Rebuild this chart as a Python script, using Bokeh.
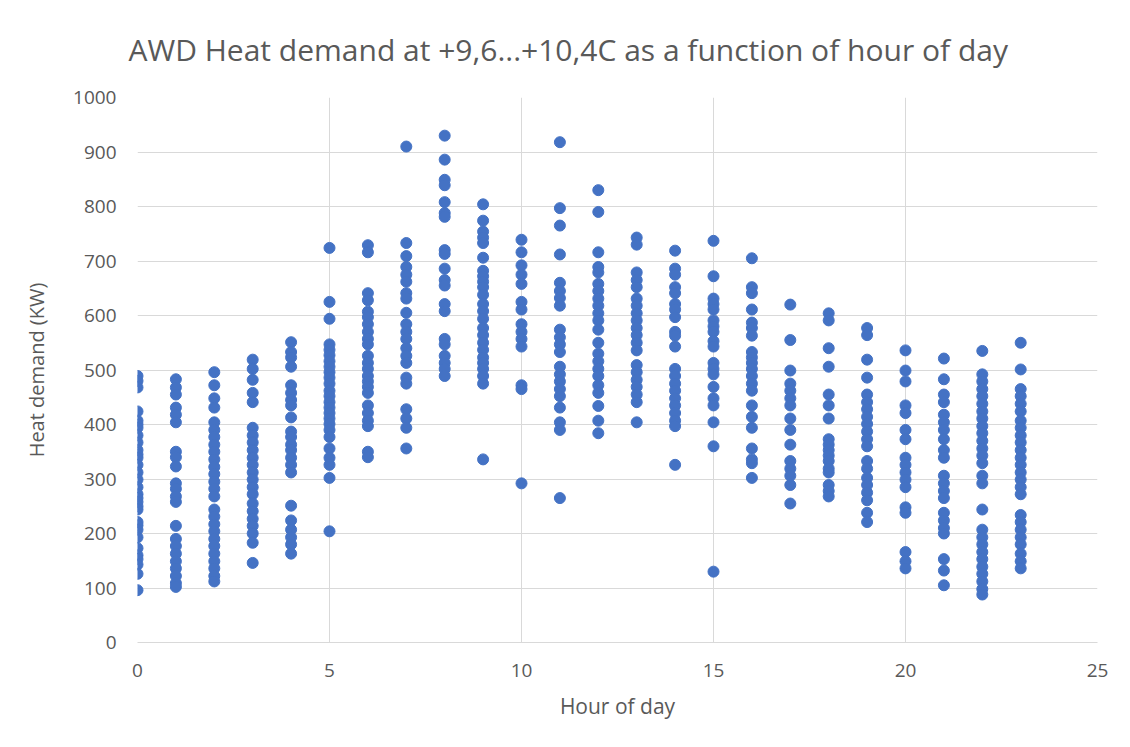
from bokeh.plotting import figure
from bokeh.models import ColumnDataSource, Title, FixedTicker
from bokeh.embed import file_html
from bokeh.resources import INLINE

# Heat demand (KW) readings per hour of day
h00 = [489, 480, 468, 424, 407, 400, 394, 380, 367, 353, 345, 339, 326, 312, 299, 285, 272, 265, 258, 250, 244, 221, 215, 207, 193, 173, 160, 153, 143, 126, 96]
h01 = [483, 468, 455, 431, 418, 404, 350, 340, 323, 292, 282, 268, 258, 214, 190, 177, 163, 149, 136, 122, 109, 102]
h02 = [496, 472, 448, 431, 404, 390, 377, 363, 350, 336, 322, 309, 295, 282, 268, 244, 231, 217, 204, 190, 177, 163, 149, 136, 122, 112]
h03 = [519, 502, 482, 458, 441, 394, 380, 367, 353, 339, 326, 312, 299, 285, 272, 255, 241, 227, 214, 200, 183, 146]
h04 = [551, 533, 523, 506, 472, 458, 445, 435, 413, 387, 377, 363, 353, 339, 326, 312, 251, 224, 207, 193, 180, 163]
h05 = [724, 625, 594, 547, 537, 527, 516, 506, 496, 486, 475, 462, 452, 441, 431, 421, 411, 401, 390, 377, 356, 339, 326, 302, 204]
h06 = [729, 716, 641, 628, 607, 597, 584, 570, 557, 547, 526, 513, 502, 489, 479, 469, 458, 435, 421, 407, 397, 350, 340]
h07 = [910, 733, 709, 689, 675, 662, 641, 631, 605, 584, 570, 557, 540, 526, 513, 486, 475, 428, 411, 394, 356]
h08 = [930, 886, 849, 839, 808, 788, 781, 720, 713, 686, 665, 655, 621, 608, 557, 547, 526, 513, 502, 489]
h09 = [804, 774, 754, 743, 733, 706, 682, 672, 662, 652, 638, 621, 608, 594, 577, 564, 550, 537, 523, 513, 502, 489, 475, 336]
h10 = [739, 716, 692, 675, 658, 625, 611, 584, 570, 557, 543, 472, 465, 292]
h11 = [918, 797, 765, 712, 660, 645, 632, 618, 574, 560, 547, 533, 506, 492, 479, 465, 452, 431, 404, 390, 265]
h12 = [830, 790, 716, 689, 679, 658, 645, 631, 618, 604, 591, 574, 550, 530, 516, 502, 489, 472, 458, 434, 407, 384]
h13 = [743, 730, 679, 665, 652, 631, 618, 604, 591, 577, 564, 550, 536, 509, 496, 482, 469, 455, 441, 404]
h14 = [719, 686, 675, 652, 641, 621, 611, 597, 570, 563, 543, 502, 489, 475, 462, 448, 435, 421, 407, 397, 326]
h15 = [737, 672, 631, 621, 611, 591, 580, 570, 553, 543, 513, 502, 492, 469, 448, 435, 404, 360, 130]
h16 = [705, 652, 641, 611, 587, 577, 563, 533, 523, 513, 502, 489, 475, 462, 435, 414, 394, 356, 336, 329, 302]
h17 = [620, 555, 499, 475, 462, 448, 435, 411, 390, 363, 333, 319, 306, 289, 255]
h18 = [604, 591, 540, 506, 455, 435, 411, 373, 363, 353, 343, 333, 319, 312, 289, 278, 268]
h19 = [577, 564, 519, 486, 455, 441, 428, 414, 401, 387, 373, 360, 333, 319, 302, 289, 275, 261, 238, 221]
h20 = [536, 499, 479, 435, 421, 390, 373, 339, 326, 312, 299, 285, 248, 238, 166, 149, 136]
h21 = [521, 483, 455, 441, 418, 404, 390, 373, 353, 339, 306, 292, 278, 265, 238, 224, 210, 200, 153, 132, 105]
h22 = [535, 492, 479, 465, 452, 438, 424, 411, 397, 384, 370, 356, 343, 329, 306, 292, 244, 207, 193, 180, 166, 153, 139, 126, 112, 98, 88]
h23 = [550, 501, 465, 452, 438, 424, 407, 394, 380, 367, 353, 339, 326, 312, 299, 285, 272, 234, 221, 207, 193, 180, 163, 149, 136]

hours = list(range(24))
per_hour = [h00, h01, h02, h03, h04, h05, h06, h07, h08, h09, h10, h11,
            h12, h13, h14, h15, h16, h17, h18, h19, h20, h21, h22, h23]

x_ticks = [0, 5, 10, 15, 20, 25]
y_ticks = [0, 100, 200, 300, 400, 500, 600, 700, 800, 900, 1000]

xs, ys = [], []
for h, vals in zip(hours, per_hour):
    xs.extend([h] * len(vals))
    ys.extend(vals)
src = ColumnDataSource(dict(x=xs, y=ys))

FONT = "Open Sans"
TXT = "#595959"
GRID = "#d9d9d9"

p = figure(width=1114, height=731, output_backend="svg", toolbar_location=None,
           x_range=(0, 25), y_range=(0, 1000),
           min_border_left=137, min_border_right=17, min_border_top=97, min_border_bottom=89)
p.title = None
t = Title(text="AWD Heat demand at +9,6...+10,4C as a function of hour of day",
          align="left", offset=-9, standoff=52, vertical_align="top",
          text_font=FONT, text_font_size="30px", text_font_style="normal", text_color=TXT)
p.add_layout(t, "above")

p.scatter("x", "y", source=src, size=11, color="#4472C4", line_color="#4472C4")

p.outline_line_color = None
p.background_fill_color = "white"
p.border_fill_color = "white"

p.xaxis.ticker = FixedTicker(ticks=x_ticks)
p.yaxis.ticker = FixedTicker(ticks=y_ticks)
p.xgrid.ticker = FixedTicker(ticks=x_ticks)
p.ygrid.ticker = FixedTicker(ticks=y_ticks)
p.grid.grid_line_color = GRID
p.grid.grid_line_width = 1

for ax in (p.xaxis[0], p.yaxis[0]):
    ax.major_tick_line_color = None
    ax.minor_tick_line_color = None
    ax.major_label_text_font = FONT
    ax.major_label_text_font_size = "19px"
    ax.major_label_text_color = TXT
    ax.axis_label_text_font = FONT
    ax.axis_label_text_font_style = "normal"
    ax.axis_label_text_color = TXT

p.xaxis.axis_label_text_font_size = "21px"
p.yaxis.axis_label_text_font_size = "20px"
p.xaxis.axis_line_color = GRID
p.yaxis.axis_line_color = None
p.xaxis.axis_label = "Hour of day"
p.yaxis.axis_label = "Heat demand (KW)"
p.xaxis.major_label_standoff = 15
p.yaxis.major_label_standoff = 15
p.xaxis.axis_label_standoff = 12
p.yaxis.axis_label_standoff = 20

open("out.html", "w").write(file_html(p, INLINE))
